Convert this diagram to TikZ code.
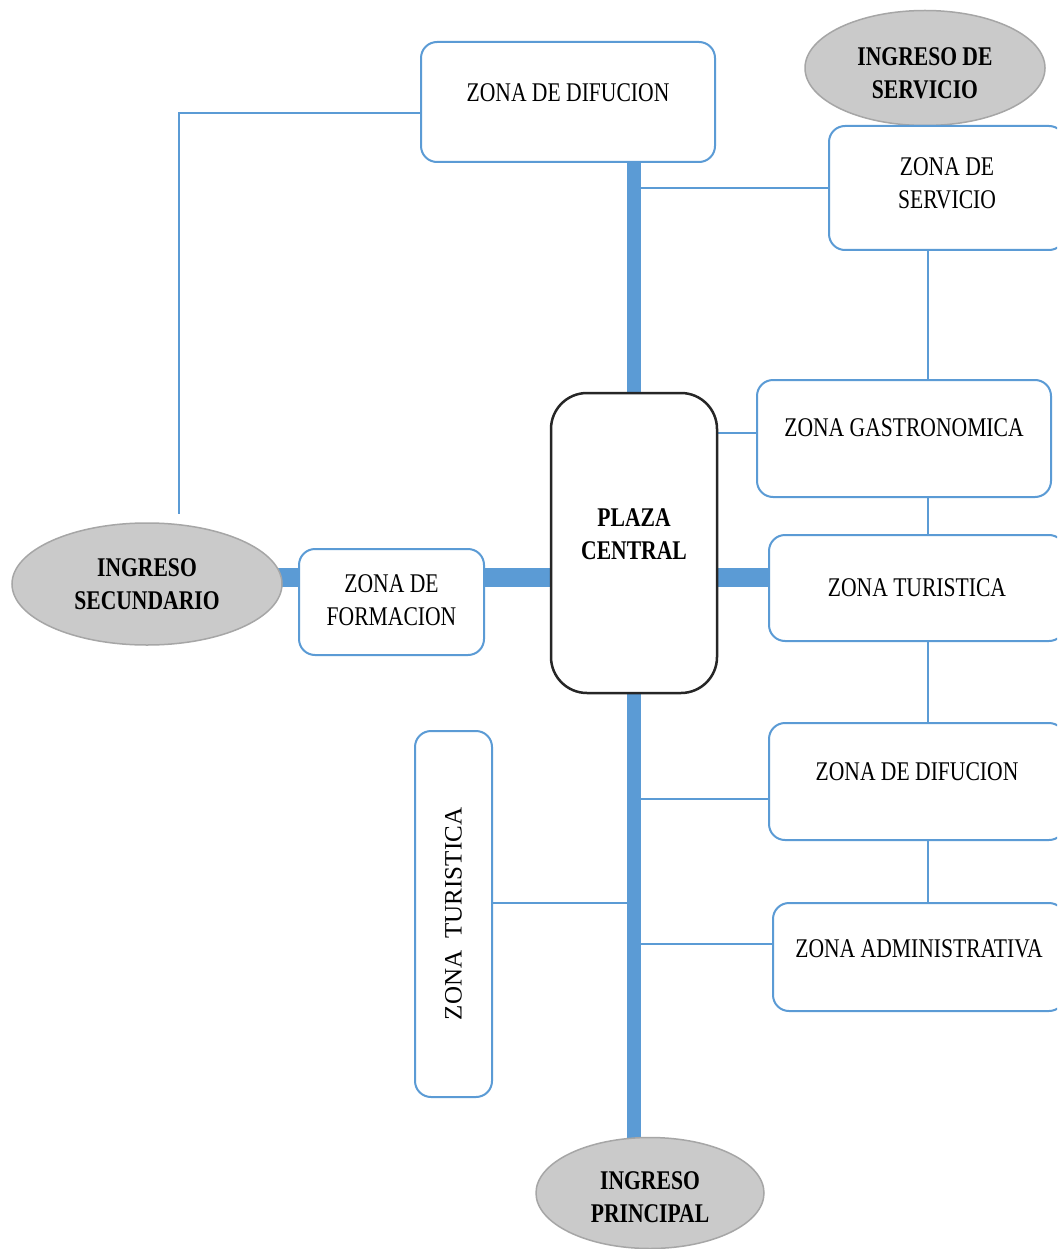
\documentclass[tikz,border=0pt]{standalone}
\usepackage{fontspec}
\setmainfont{Liberation Serif}[FakeStretch=0.8]
\newfontfamily\anchafont{Liberation Serif}
\usepackage{tikz}
\usetikzlibrary{positioning,shapes.geometric,backgrounds}
\definecolor{azulzona}{HTML}{5B9BD5}
\definecolor{grisovalo}{HTML}{CACACA}
\definecolor{bordeovalo}{HTML}{A6A6A6}
\definecolor{bordeplaza}{HTML}{262626}
\tikzset{
    zonabox/.style={
        draw=azulzona, fill=white, line width=2pt, rounded corners=16pt,
        inner sep=0pt, align=center
    },
    ingresobox/.style={
        ellipse, draw=bordeovalo, fill=grisovalo, line width=1.5pt,
        inner sep=0pt, font=\fontsize{27}{33}\selectfont\bfseries, align=center
    },
    plazabox/.style={
        draw=bordeplaza, fill=white, line width=2.5pt, rounded corners=36pt,
        inner sep=0pt, font=\fontsize{27}{33}\selectfont\bfseries, align=center
    },
    textoalto/.style={text height=18pt, text depth=#1},
    dosalto/.style 2 args={text height=#1, text depth=#2},
    enlace/.style={draw=azulzona, line width=2pt},
    eje/.style={draw=azulzona, line width=14pt},
    ejeancho/.style={draw=azulzona, line width=19pt},
}

\begin{document}
\begin{tikzpicture}[x=1pt, y=-1pt, every node/.style={font=\fontsize{27}{33}\selectfont, align=center}]
    \useasboundingbox (0,0) rectangle (1057,1249);
    \clip (0,0) rectangle (1057,1249);
    \coordinate (ejeX) at (634,577);
    \coordinate (colDer) at (928,0);
    % zonas
    \node[zonabox, minimum width=294pt, minimum height=120pt, textoalto=19pt] (difA) at (568,102) {ZONA DE DIFUCION};
    \node[ingresobox, minimum width=240pt, minimum height=115pt, dosalto={61pt}{0pt}] (ingServ) at (925,68) {INGRESO DE\\SERVICIO};
    \node[zonabox, minimum width=236pt, minimum height=124pt, dosalto={51pt}{10pt}] (servicio) at (947,188) {ZONA DE\\SERVICIO};
    \node[zonabox, minimum width=294pt, minimum height=117pt, textoalto=22pt] (gastro) at (904,438.5) {ZONA GASTRONOMICA};
    \node[plazabox, minimum width=166pt, minimum height=300pt, dosalto={51pt}{18pt}] (plaza) at (634,543) {PLAZA\\CENTRAL};
    \node[zonabox, minimum width=296pt, minimum height=106pt] (turR) at (917,588) {ZONA TURISTICA};
    \node[zonabox, minimum width=296pt, minimum height=117pt, textoalto=21pt] (difB) at (917,781.5) {ZONA DE DIFUCION};
    \node[zonabox, minimum width=292pt, minimum height=108pt, textoalto=17pt] (admin) at (919,957) {ZONA ADMINISTRATIVA};
    \node[zonabox, minimum width=185pt, minimum height=106pt, dosalto={51pt}{4pt}] (formacion) at (391.5,602) {ZONA DE\\FORMACION};
    \node[ingresobox, minimum width=270pt, minimum height=122pt] (ingSec) at (147,584) {INGRESO\\SECUNDARIO};
    \node[zonabox, minimum width=77pt, minimum height=366pt, font=\anchafont\fontsize{25}{30}\selectfont] (turV) at (453.5,914) {\rotatebox{90}{ZONA\ \ TURISTICA}};
    \node[ingresobox, minimum width=228pt, minimum height=111pt, dosalto={59pt}{0pt}] (ingPrin) at (650,1193) {INGRESO\\PRINCIPAL};

    \begin{scope}[on background layer]
        \fill[white] (0,0) rectangle (1057,1249);
        % enlaces finos
        \draw[enlace] ([yshift=-11pt]difA.west) -| ([xshift=32pt,yshift=8pt]ingSec.north);
        \draw[enlace] (servicio.west) -- (servicio.west -| ejeX);
        \draw[enlace] ([yshift=6pt]gastro.west) -- ([yshift=6pt]gastro.west -| plaza.east);
        \draw[enlace] ([yshift=-17pt]difB.west) -- ([yshift=-17pt]difB.west -| ejeX);
        \draw[enlace] ([yshift=13pt]admin.west) -- ([yshift=13pt]admin.west -| ejeX);
        \draw[enlace] ([yshift=11pt]turV.east) -- ([yshift=11pt]turV.east -| ejeX);
        \draw[enlace] (colDer |- servicio.south) -- (colDer |- gastro.north)
                      (colDer |- gastro.south) -- (colDer |- turR.north)
                      (colDer |- turR.south) -- (colDer |- difB.north)
                      (colDer |- difB.south) -- (colDer |- admin.north);
        % ejes gruesos
        \draw[eje] (ejeX |- difA.south) -- (ejeX |- ingPrin.center);
        \draw[ejeancho] (ingSec.center |- ejeX) -- (turR.center |- ejeX);
    \end{scope}
\end{tikzpicture}
\end{document}
